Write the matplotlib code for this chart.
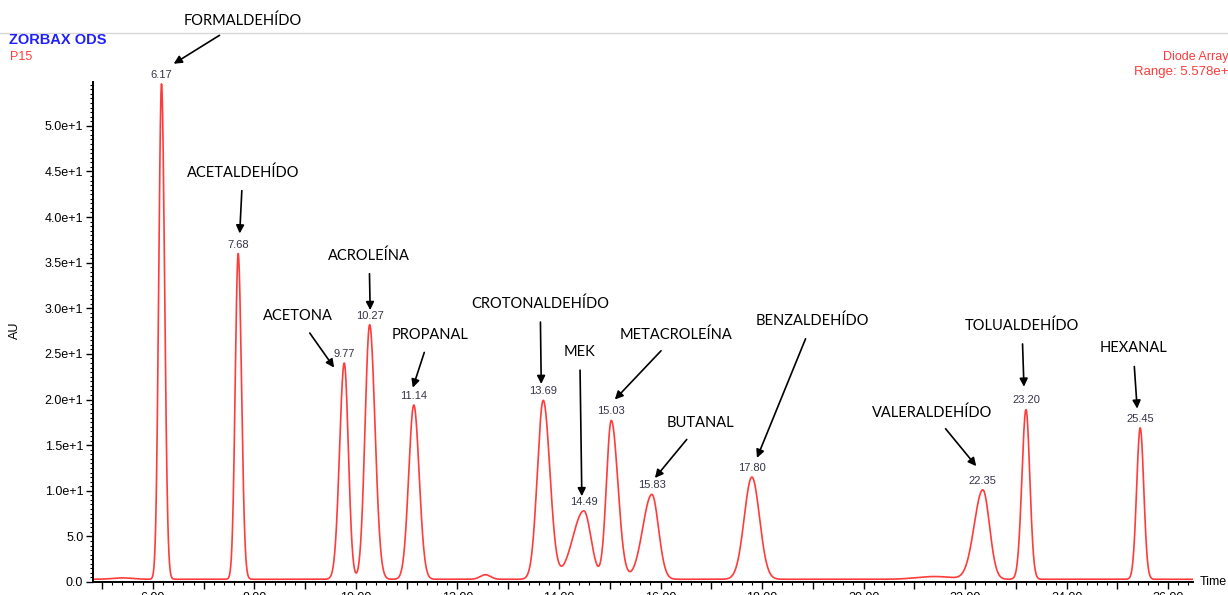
import numpy as np
import matplotlib.pyplot as plt
from matplotlib.lines import Line2D
from matplotlib.ticker import MultipleLocator, FuncFormatter

## peak table (retention time in min, height in AU above baseline)
retention = [6.17, 7.68, 9.77, 10.27, 11.14, 13.69, 14.49, 15.03, 15.83, 17.80, 22.35, 23.20, 25.45]
heights = [54.3, 35.7, 23.7, 27.9, 19.1, 19.6, 7.5, 17.4, 9.3, 11.2, 9.8, 18.6, 16.6]
sigma_left = [0.055, 0.058, 0.092, 0.09, 0.10, 0.115, 0.22, 0.095, 0.18, 0.15, 0.17, 0.08, 0.07]
sigma_right = [0.06, 0.065, 0.08, 0.105, 0.105, 0.13, 0.14, 0.13, 0.13, 0.15, 0.13, 0.075, 0.07]

## small baseline bumps with no label
bump_times = [5.4, 12.55, 21.4]
bump_heights = [0.15, 0.5, 0.3]
bump_sigmas = [0.2, 0.1, 0.35]
baseline = 0.3

## compound names and where their arrows point (text x, text y, tip x, tip y in data units)
names = ["FORMALDEHÍDO", "ACETALDEHÍDO", "ACETONA", "ACROLEÍNA", "PROPANAL",
         "CROTONALDEHÍDO", "MEK", "METACROLEÍNA", "BUTANAL", "BENZALDEHÍDO",
         "VALERALDEHÍDO", "TOLUALDEHÍDO", "HEXANAL"]
name_xy = [(7.77, 61.5), (7.77, 44.9), (8.86, 29.1), (10.26, 35.8), (11.46, 27.1),
           (13.63, 30.5), (14.41, 25.2), (16.31, 27.1), (16.78, 17.4), (19.0, 28.6),
           (21.35, 18.6), (23.12, 28.1), (25.31, 25.6)]
tip_xy = [(6.41, 56.8), (7.71, 38.2), (9.57, 23.5), (10.28, 29.8), (11.12, 21.3),
          (13.65, 21.7), (14.45, 9.4), (15.10, 20.0), (15.89, 11.4), (17.90, 13.6),
          (22.22, 12.7), (23.16, 21.4), (25.39, 19.0)]

def bigauss(t, t0, h, sl, sr):
    s = np.where(t < t0, sl, sr)
    return h * np.exp(-(t - t0)**2 / (2 * s**2))

t = np.linspace(4.82, 26.49, 4000)
signal = np.full_like(t, baseline)
for t0, h, sl, sr in zip(retention, heights, sigma_left, sigma_right):
    signal += bigauss(t, t0, h, sl, sr)
for t0, h, s in zip(bump_times, bump_heights, bump_sigmas):
    signal += bigauss(t, t0, h, s, s)

W, H = 1228, 595
fig = plt.figure(figsize=(W/100, H/100), dpi=100)
ax = fig.add_axes([93/W, 13/H, 1100/W, 500/H])

ax.plot(t, signal, color='#ff3b3b', lw=1.2)
ax.set_xlim(4.82, 26.49)
ax.set_ylim(0, 54.8)

for s in ['top', 'right']:
    ax.spines[s].set_visible(False)
ax.spines['left'].set_linewidth(1.4)
ax.spines['bottom'].set_linewidth(1.4)

## ticks
ax.xaxis.set_major_locator(MultipleLocator(1.0))
ax.xaxis.set_minor_locator(MultipleLocator(0.2))
ax.xaxis.set_major_formatter(FuncFormatter(lambda v, p: f"{v:.2f}" if round(v) % 2 == 0 else ""))
ax.yaxis.set_major_locator(MultipleLocator(5.0))
ax.yaxis.set_minor_locator(MultipleLocator(0.5))
ax.yaxis.set_major_formatter(FuncFormatter(lambda v, p: f"{v/10:.1f}e+1" if v >= 9.99 else f"{v:.1f}"))
ax.tick_params(which='major', length=5, width=1, labelsize=9, pad=2)
ax.tick_params(which='minor', length=2.5, width=0.8)
for lab in ax.get_xticklabels() + ax.get_yticklabels():
    lab.set_fontfamily('Liberation Sans')

## retention time labels above each peak
for t0 in retention:
    ax.annotate(f"{t0:.2f}", (t0, np.interp(t0, t, signal)), xytext=(0, 3),
                textcoords='offset points', ha='center', va='bottom',
                fontsize=8, color='#34344a', family='Liberation Sans')

## compound names with arrows
for name, txy, pxy in zip(names, name_xy, tip_xy):
    ax.annotate(name, xy=pxy, xytext=txy, ha='center', va='center',
                fontsize=10.5, family='Lato', color='black', annotation_clip=False,
                arrowprops=dict(arrowstyle='-|>', color='black', lw=1.2,
                                mutation_scale=12, shrinkA=6, shrinkB=0))

## header and axis texts
fig.add_artist(Line2D([0, 1], [1 - 33/H, 1 - 33/H], transform=fig.transFigure,
                      color='#d8d8d8', lw=1))
fig.text(9/W, 1 - 40/H, "ZORBAX ODS", color='#1f1fff', fontsize=10.5,
         fontweight='bold', family='Liberation Sans', va='center', ha='left')
fig.text(10/W, 1 - 57/H, "P15", color='#ff3b3b', fontsize=9,
         family='Liberation Sans', va='center', ha='left')
fig.text(1163/W, 1 - 57/H, "Diode Array 1", color='#ff3b3b', fontsize=9,
         family='Liberation Sans', va='center', ha='left')
fig.text(1134/W, 1 - 72/H, "Range: 5.578e+1", color='#ff3b3b', fontsize=9.5,
         family='Liberation Sans', va='center', ha='left')
fig.text(15/W, 1 - 330/H, "AU", rotation=90, fontsize=9,
         family='Liberation Sans', va='center', ha='center')
ax.text(26.63, 0, "Time", fontsize=9, family='Liberation Sans',
        va='center', ha='left', clip_on=False)

fig.savefig('out.png', dpi=100)
